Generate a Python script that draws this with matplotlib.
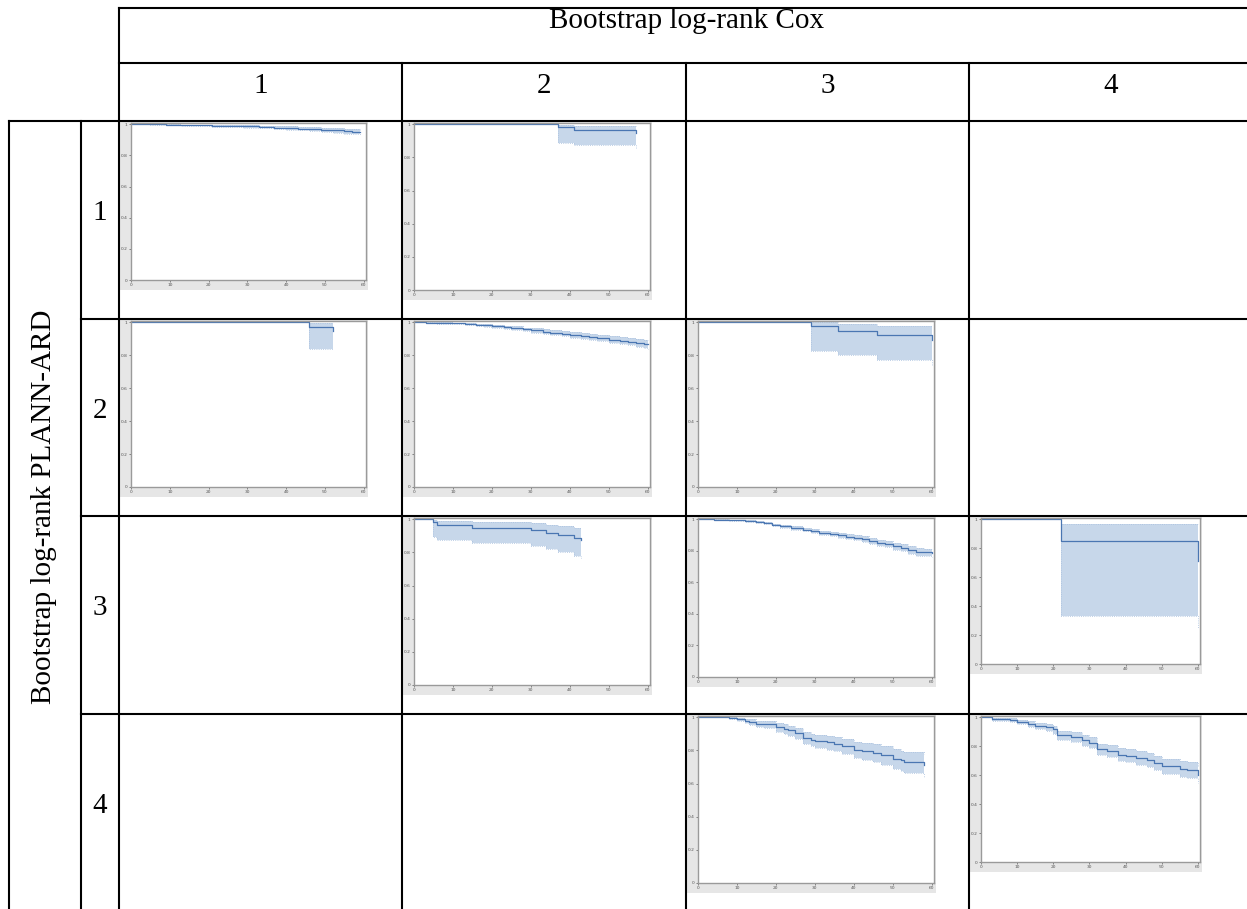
import matplotlib
matplotlib.use("Agg")
import matplotlib.pyplot as plt
from matplotlib.patches import Rectangle

W, H = 1247, 909

# ---- labels ----
col_title = "Bootstrap log-rank Cox"
row_title = "Bootstrap log-rank PLANN-ARD"
col_labels = ["1", "2", "3", "4"]
row_labels = ["1", "2", "3", "4"]

# ---- Kaplan-Meier estimates (time, survival, lower CI, upper CI) ----
t11 = [0, 5, 9, 13, 17, 21, 25, 29, 33, 37, 40, 43, 46, 49, 52, 55, 57, 59]
s11 = [1.0, 0.999, 0.997, 0.995, 0.993, 0.991, 0.989, 0.986, 0.983, 0.979, 0.976, 0.972, 0.968, 0.964, 0.960, 0.956, 0.953, 0.950]
lo11 = [1.0, 0.997, 0.994, 0.991, 0.988, 0.985, 0.982, 0.978, 0.974, 0.969, 0.965, 0.960, 0.955, 0.950, 0.945, 0.940, 0.936, 0.933]
hi11 = [1.0, 1.0, 0.999, 0.998, 0.997, 0.996, 0.995, 0.993, 0.991, 0.988, 0.986, 0.983, 0.980, 0.977, 0.974, 0.971, 0.969, 0.966]

t12 = [0, 37, 41, 57]
s12 = [1.0, 0.982, 0.965, 0.950]
lo12 = [1.0, 0.888, 0.873, 0.850]
hi12 = [1.0, 0.995, 0.990, 0.990]

t21 = [0, 46, 52]
s21 = [1.0, 0.970, 0.950]
lo21 = [1.0, 0.840, 0.840]
hi21 = [1.0, 0.998, 0.998]

t22 = [0, 3, 6, 10, 13, 16, 18, 20, 23, 25, 28, 30, 33, 35, 38, 40, 43, 45, 47, 50, 53, 55, 57, 59, 60]
s22 = [1.0, 0.998, 0.996, 0.995, 0.992, 0.986, 0.981, 0.977, 0.970, 0.965, 0.957, 0.951, 0.944, 0.937, 0.930, 0.924, 0.918, 0.913, 0.904, 0.895, 0.889, 0.883, 0.877, 0.871, 0.866]
lo22 = [1.0, 0.995, 0.992, 0.990, 0.986, 0.979, 0.973, 0.968, 0.960, 0.954, 0.945, 0.938, 0.930, 0.922, 0.914, 0.907, 0.900, 0.894, 0.884, 0.874, 0.867, 0.860, 0.853, 0.847, 0.841]
hi22 = [1.0, 1.0, 0.999, 0.998, 0.996, 0.992, 0.988, 0.985, 0.979, 0.975, 0.968, 0.963, 0.957, 0.951, 0.945, 0.940, 0.935, 0.931, 0.923, 0.915, 0.910, 0.905, 0.900, 0.895, 0.890]

t23 = [0, 29, 36, 46, 60]
s23 = [1.0, 0.975, 0.950, 0.920, 0.890]
lo23 = [1.0, 0.824, 0.800, 0.771, 0.740]
hi23 = [1.0, 1.0, 0.988, 0.975, 0.975]

t32 = [0, 5, 6, 15, 30, 34, 37, 41, 43]
s32 = [1.0, 0.982, 0.965, 0.949, 0.934, 0.918, 0.904, 0.890, 0.874]
lo32 = [1.0, 0.894, 0.874, 0.859, 0.839, 0.818, 0.802, 0.778, 0.768]
hi32 = [1.0, 0.996, 0.992, 0.982, 0.976, 0.965, 0.960, 0.947, 0.947]

t33 = [0, 4, 8, 12, 15, 17, 19, 21, 24, 27, 29, 31, 34, 36, 38, 40, 42, 44, 46, 48, 50, 52, 54, 56, 58, 60]
s33 = [1.0, 0.998, 0.995, 0.990, 0.985, 0.975, 0.965, 0.955, 0.945, 0.935, 0.925, 0.915, 0.905, 0.898, 0.890, 0.884, 0.875, 0.865, 0.852, 0.842, 0.830, 0.820, 0.805, 0.795, 0.790, 0.783]
lo33 = [1.0, 0.996, 0.992, 0.985, 0.979, 0.968, 0.957, 0.946, 0.935, 0.924, 0.913, 0.902, 0.891, 0.883, 0.874, 0.867, 0.857, 0.846, 0.832, 0.821, 0.808, 0.797, 0.781, 0.770, 0.765, 0.758]
hi33 = [1.0, 1.0, 0.998, 0.994, 0.990, 0.982, 0.973, 0.964, 0.955, 0.946, 0.937, 0.928, 0.919, 0.912, 0.905, 0.900, 0.892, 0.883, 0.871, 0.862, 0.851, 0.842, 0.828, 0.819, 0.814, 0.808]

t34 = [0, 22, 60]
s34 = [1.0, 0.850, 0.710]
lo34 = [1.0, 0.331, 0.250]
hi34 = [1.0, 0.970, 0.970]

t43 = [0, 8, 10, 12, 13, 15, 17, 20, 22, 23, 25, 27, 29, 30, 33, 35, 37, 40, 42, 45, 47, 50, 52, 53, 56, 58]
s43 = [1.0, 0.995, 0.988, 0.980, 0.972, 0.962, 0.958, 0.941, 0.930, 0.921, 0.905, 0.877, 0.865, 0.856, 0.849, 0.841, 0.825, 0.804, 0.795, 0.784, 0.770, 0.750, 0.740, 0.729, 0.729, 0.713]
lo43 = [1.0, 0.988, 0.977, 0.966, 0.955, 0.942, 0.936, 0.914, 0.900, 0.889, 0.871, 0.840, 0.826, 0.814, 0.805, 0.795, 0.777, 0.752, 0.741, 0.728, 0.712, 0.690, 0.678, 0.666, 0.664, 0.642]
hi43 = [1.0, 1.0, 0.997, 0.992, 0.987, 0.980, 0.977, 0.965, 0.957, 0.950, 0.937, 0.912, 0.902, 0.895, 0.890, 0.884, 0.870, 0.852, 0.845, 0.836, 0.824, 0.806, 0.797, 0.788, 0.788, 0.778]

t44 = [0, 3, 8, 10, 13, 15, 18, 20, 21, 25, 28, 30, 32, 35, 38, 40, 43, 46, 48, 50, 53, 55, 57, 60]
s44 = [1.0, 0.986, 0.982, 0.968, 0.954, 0.938, 0.931, 0.915, 0.876, 0.862, 0.839, 0.823, 0.777, 0.765, 0.742, 0.735, 0.719, 0.707, 0.684, 0.661, 0.661, 0.645, 0.633, 0.603]
lo44 = [1.0, 0.975, 0.968, 0.951, 0.934, 0.915, 0.905, 0.886, 0.842, 0.826, 0.801, 0.784, 0.736, 0.722, 0.698, 0.689, 0.671, 0.658, 0.634, 0.609, 0.607, 0.590, 0.577, 0.545]
hi44 = [1.0, 0.995, 0.993, 0.983, 0.972, 0.959, 0.954, 0.941, 0.906, 0.895, 0.875, 0.860, 0.816, 0.806, 0.785, 0.779, 0.765, 0.755, 0.733, 0.711, 0.713, 0.698, 0.688, 0.660]

curves = {
    (0, 0): (t11, s11, lo11, hi11),
    (0, 1): (t12, s12, lo12, hi12),
    (1, 0): (t21, s21, lo21, hi21),
    (1, 1): (t22, s22, lo22, hi22),
    (1, 2): (t23, s23, lo23, hi23),
    (2, 1): (t32, s32, lo32, hi32),
    (2, 2): (t33, s33, lo33, hi33),
    (2, 3): (t34, s34, lo34, hi34),
    (3, 2): (t43, s43, lo43, hi43),
    (3, 3): (t44, s44, lo44, hi44),
}

# ---- table layout (pixels) ----
col_x = [119, 402, 686, 969, 1252]
row_y = [121, 319, 516, 714, 912]
left_x, label_x = 9, 81
top_y, head_y = 8, 63

# outer box of each small plot: left, top, width, height
plot_box = {
    (0, 0): (120, 122, 248, 168),
    (0, 1): (403, 122, 249, 178),
    (1, 0): (120, 320, 248, 177),
    (1, 1): (403, 320, 249, 177),
    (1, 2): (687, 320, 249, 177),
    (2, 1): (403, 517, 249, 178),
    (2, 2): (687, 517, 249, 170),
    (2, 3): (970, 517, 232, 157),
    (3, 2): (687, 715, 249, 178),
    (3, 3): (970, 715, 232, 157),
}

LINE_C = "#4a76b2"
BAND_C = "#c7d7ea"
EDGE_C = "#a9c0de"
PANEL_BG = "#e6e6e6"
SPINE_C = "#9a9a9a"

fig = plt.figure(figsize=(W / 100, H / 100), dpi=100)
tab = fig.add_axes([0, 0, 1, 1])
tab.set_xlim(0, W)
tab.set_ylim(H, 0)
tab.axis("off")

lw = 1.5
kw = dict(color="black", lw=lw, solid_capstyle="projecting")
# header rows
tab.plot([col_x[0], W], [top_y, top_y], **kw)
tab.plot([col_x[0], W], [head_y, head_y], **kw)
tab.plot([left_x, W], [row_y[0], row_y[0]], **kw)
for y in row_y[1:-1]:
    tab.plot([label_x, W], [y, y], **kw)
# verticals
tab.plot([col_x[0], col_x[0]], [top_y, H], **kw)
for x in col_x[1:-1]:
    tab.plot([x, x], [head_y, H], **kw)
tab.plot([left_x, left_x], [row_y[0], H], **kw)
tab.plot([label_x, label_x], [row_y[0], H], **kw)

serif = ["Liberation Serif", "DejaVu Serif"]
tab.text((col_x[0] + W + 5) / 2 + 1, 21, col_title, family=serif, fontsize=21,
         ha="center", va="center")
for j, lab in enumerate(col_labels):
    tab.text((col_x[j] + col_x[j + 1]) / 2, 86, lab, family=serif, fontsize=21,
             ha="center", va="center")
for i, lab in enumerate(row_labels):
    tab.text((label_x + col_x[0]) / 2, (row_y[i] + row_y[i + 1]) / 2 - 7, lab,
             family=serif, fontsize=21, ha="center", va="center")
tab.text(44, 507, row_title, family=serif, fontsize=21, rotation=90,
         ha="center", va="center")

# ---- small survival panels ----
for key, (gx, gy, gw, gh) in plot_box.items():
    tab.add_patch(Rectangle((gx, gy), gw, gh, facecolor=PANEL_BG, edgecolor="none",
                            zorder=1))
    ax = fig.add_axes([(gx + 11) / W, 1 - (gy + gh - 10) / H,
                       (gw - 13) / W, (gh - 11) / H])
    t, s, lo, hi = curves[key]
    ax.fill_between(t, lo, hi, step="post", color=BAND_C, lw=0)
    ax.step(t, lo, where="post", color=EDGE_C, lw=0.6, ls=":")
    ax.step(t, hi, where="post", color=EDGE_C, lw=0.6, ls=":")
    ax.step(t, s, where="post", color=LINE_C, lw=0.9)
    ax.set_xlim(0, 60.6)
    ax.set_ylim(0, 1.008)
    ax.set_xticks([0, 10, 20, 30, 40, 50, 60])
    ax.set_yticks([0, 0.2, 0.4, 0.6, 0.8, 1.0])
    ax.set_yticklabels(["0", "0.2", "0.4", "0.6", "0.8", "1"])
    ax.tick_params(labelsize=3.2, length=1.5, width=0.5, pad=1,
                   colors="#555555")
    for sp in ax.spines.values():
        sp.set_color(SPINE_C)
        sp.set_linewidth(1.0)
    ax.set_facecolor("white")

fig.savefig("out.png", dpi=100)
